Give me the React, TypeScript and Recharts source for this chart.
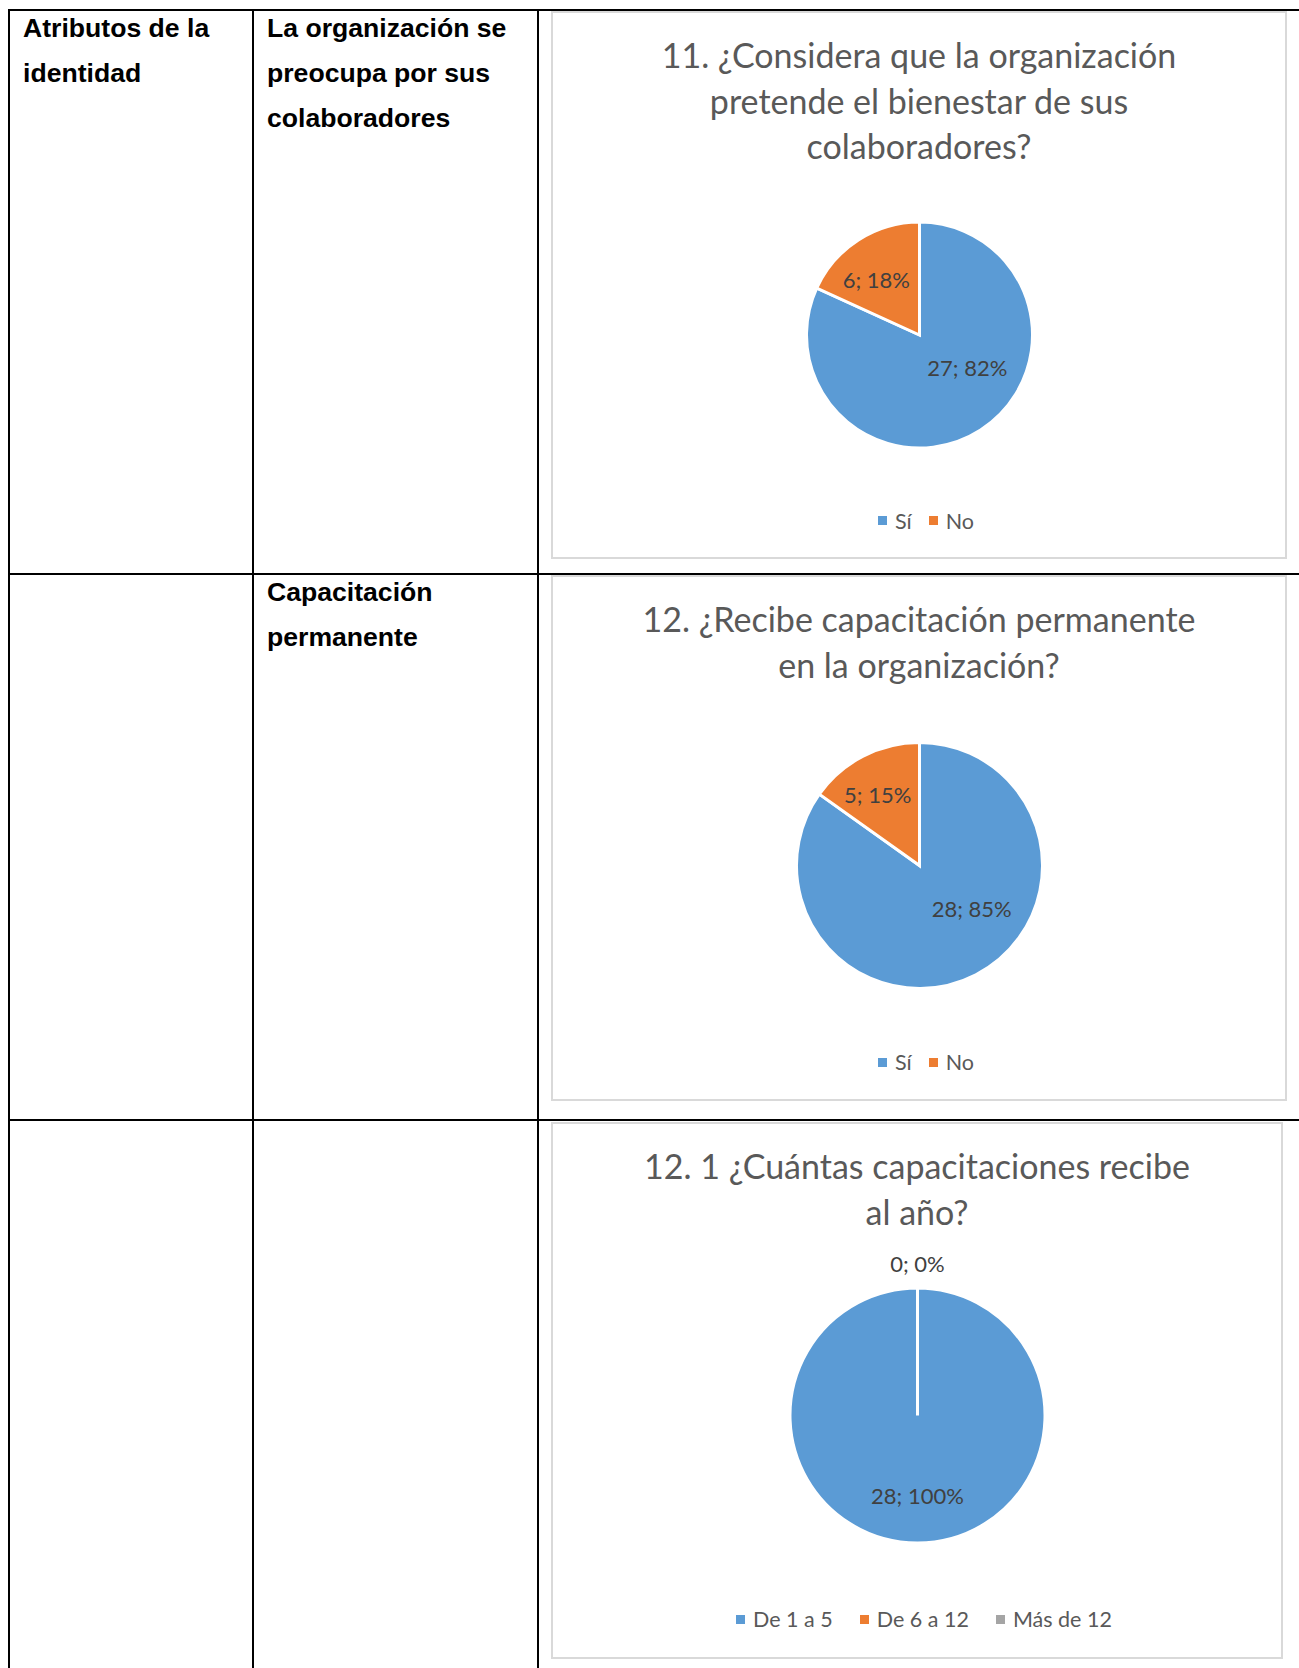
import { PieChart, Pie, Cell } from "recharts"

const CHART_FONT = "Lato, 'Open Sans', sans-serif"
const CELL_FONT = "'Liberation Sans', Arial, sans-serif"

const BLUE = "#5b9bd5"
const ORANGE = "#ed7d31"
const GRAY = "#a5a5a5"

// 11. bienestar de los colaboradores
const q11Categories = ["Sí", "No"]
const q11Values = [27, 6]

// 12. capacitación permanente
const q12Categories = ["Sí", "No"]
const q12Values = [28, 5]

// 12.1 capacitaciones al año
const q121Categories = ["De 1 a 5", "De 6 a 12", "Más de 12"]
const q121Values = [28, 0, 0]

const q11Title = ["11. ¿Considera que la organización", "pretende el bienestar de sus", "colaboradores?"]
const q12Title = ["12. ¿Recibe capacitación permanente", "en la organización?"]
const q121Title = ["12. 1 ¿Cuántas capacitaciones recibe", "al año?"]

type Spot = { angle: number; dist: number }

interface PieBoxProps {
  left: number
  top: number
  width: number
  height: number
  title: string[]
  categories: string[]
  values: number[]
  colors: string[]
  cx: number
  cy: number
  r: number
  spots: Spot[]
  legendY: number
  legendGap: number
}

const RAD = Math.PI / 180

function PieBox(p: PieBoxProps) {
  const data = p.categories.map((name, i) => ({ name, value: p.values[i] }))
  const total = p.values.reduce((a, b) => a + b, 0)
  const firstZero = p.values.indexOf(0)

  // label text "valor; porcentaje", placed at a polar spot around the pie centre
  const renderLabel = (props: any) => {
    const { cx, cy, outerRadius, index, value } = props
    if (value === 0 && index !== firstZero) return null
    const spot = p.spots[index]
    if (!spot) return null
    const x = cx + Math.cos(spot.angle * RAD) * outerRadius * spot.dist
    const y = cy - Math.sin(spot.angle * RAD) * outerRadius * spot.dist
    const pct = total ? Math.round((value / total) * 100) : 0
    return (
      <text
        key={`lbl-${index}`}
        x={x}
        y={y}
        textAnchor="middle"
        dominantBaseline="central"
        fill="#404040"
        fontSize={22}
        fontFamily={CHART_FONT}
      >
        {`${value}; ${pct}%`}
      </text>
    )
  }

  return (
    <div style={{ position: "absolute", left: p.left, top: p.top, width: p.width, height: p.height }}>
      <div
        style={{
          position: "absolute",
          inset: 0,
          border: "2px solid #d9d9d9",
          boxSizing: "border-box",
          background: "#fff",
        }}
      />
      <div
        style={{
          position: "absolute",
          left: 0,
          top: 21,
          width: p.width,
          textAlign: "center",
          fontFamily: CHART_FONT,
          fontWeight: 400,
          fontSize: 34,
          lineHeight: "45.5px",
          color: "#595959",
          whiteSpace: "nowrap",
        }}
      >
        {p.title.map((t) => (
          <div key={t}>{t}</div>
        ))}
      </div>
      <div style={{ position: "absolute", left: 0, top: 0 }}>
        <PieChart width={p.width} height={p.height} margin={{ top: 0, right: 0, bottom: 0, left: 0 }}>
          <Pie
            data={data}
            dataKey="value"
            nameKey="name"
            cx={p.cx}
            cy={p.cy}
            outerRadius={p.r}
            startAngle={90}
            endAngle={-270}
            stroke="#fff"
            strokeWidth={3}
            label={renderLabel}
            labelLine={false}
            isAnimationActive={false}
          >
            {data.map((d, i) => (
              <Cell key={d.name} fill={p.colors[i]} />
            ))}
          </Pie>
        </PieChart>
      </div>
      <div
        style={{
          position: "absolute",
          left: 7,
          top: p.legendY - 15,
          width: p.width,
          height: 30,
          display: "flex",
          justifyContent: "center",
          alignItems: "center",
          fontFamily: CHART_FONT,
          fontSize: 21.5,
          color: "#595959",
          gap: p.legendGap,
        }}
      >
        {p.categories.map((c, i) => (
          <div key={c} style={{ display: "flex", alignItems: "center" }}>
            <span style={{ display: "inline-block", width: 9, height: 9, background: p.colors[i], marginRight: 8 }} />
            <span>{c}</span>
          </div>
        ))}
      </div>
    </div>
  )
}

function Rule({ left, top, width, height }: { left: number; top: number; width: number; height: number }) {
  return <div style={{ position: "absolute", left, top, width, height, background: "#000" }} />
}

function CellText({ left, top, lines }: { left: number; top: number; lines: string[] }) {
  return (
    <div
      style={{
        position: "absolute",
        left,
        top,
        fontFamily: CELL_FONT,
        fontWeight: 700,
        fontSize: 26.6,
        lineHeight: "45px",
        color: "#000",
        whiteSpace: "nowrap",
      }}
    >
      {lines.map((l) => (
        <div key={l}>{l}</div>
      ))}
    </div>
  )
}

export default function App() {
  return (
    <div
      style={{
        position: "absolute",
        left: 0,
        top: 0,
        width: 1299,
        height: 1668,
        background: "#fff",
        overflow: "hidden",
      }}
    >
      {/* table grid */}
      <Rule left={8} top={9} width={1291} height={2} />
      <Rule left={8} top={573} width={1291} height={2} />
      <Rule left={8} top={1119} width={1291} height={2} />
      <Rule left={8} top={9} width={2} height={1659} />
      <Rule left={252} top={9} width={2} height={1659} />
      <Rule left={537} top={9} width={2} height={1659} />

      <CellText left={23} top={6} lines={["Atributos de la", "identidad"]} />
      <CellText left={267} top={6} lines={["La organización se", "preocupa por sus", "colaboradores"]} />
      <CellText left={267} top={570} lines={["Capacitación", "permanente"]} />

      <PieBox
        left={551}
        top={11}
        width={736}
        height={548}
        title={q11Title}
        categories={q11Categories}
        values={q11Values}
        colors={[BLUE, ORANGE]}
        cx={368.5}
        cy={324}
        r={113}
        spots={[
          { angle: -34, dist: 0.51 },
          { angle: 128, dist: 0.62 },
        ]}
        legendY={509.5}
        legendGap={17}
      />
      <PieBox
        left={551}
        top={575}
        width={736}
        height={526}
        title={q12Title}
        categories={q12Categories}
        values={q12Values}
        colors={[BLUE, ORANGE]}
        cx={368.5}
        cy={290.5}
        r={123}
        spots={[
          { angle: -39.5, dist: 0.55 },
          { angle: 120.5, dist: 0.67 },
        ]}
        legendY={487}
        legendGap={17}
      />
      <PieBox
        left={551}
        top={1122}
        width={732}
        height={537}
        title={q121Title}
        categories={q121Categories}
        values={q121Values}
        colors={[BLUE, ORANGE, GRAY]}
        cx={366.5}
        cy={293.5}
        r={127.5}
        spots={[
          { angle: -90, dist: 0.63 },
          { angle: 90, dist: 1.19 },
          { angle: 90, dist: 1.19 },
        ]}
        legendY={497}
        legendGap={27}
      />
    </div>
  )
}
